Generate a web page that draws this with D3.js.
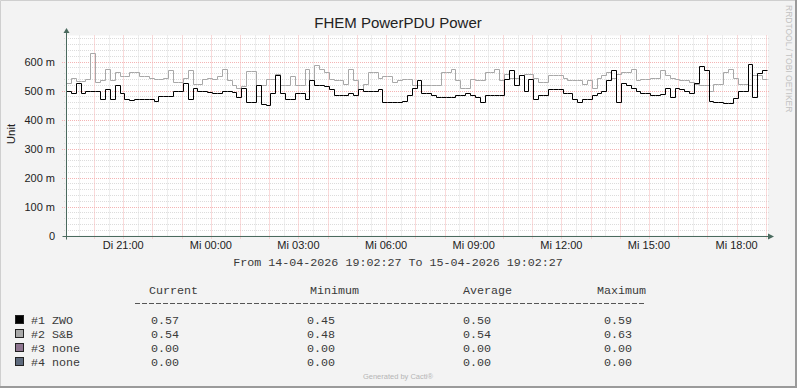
<!DOCTYPE html>
<html>
<head>
<meta charset="utf-8">
<script src="https://cdn.jsdelivr.net/npm/d3@7"></script>
<style>
  html, body { margin: 0; padding: 0; background: #f3f3f3; }
  svg { display: block; }
</style>
</head>
<body>
<div id="chart"></div>
<script>
// --- data (one value per 10 minutes) ---
var startTime = Date.UTC(2026, 3, 14, 19, 2, 27);
var endTime = Date.UTC(2026, 3, 15, 19, 2, 27);
var stepMinutes = 10;

var zwoValues = [
  0.50, 0.49, 0.525, 0.49, 0.50, 0.50, 0.50, 0.47, 0.505, 0.47,
  0.52, 0.49, 0.47, 0.468, 0.47, 0.472, 0.47, 0.472, 0.465, 0.48,
  0.48, 0.48, 0.50, 0.50, 0.525, 0.47, 0.51, 0.50, 0.50, 0.495,
  0.49, 0.49, 0.50, 0.50, 0.495, 0.478, 0.51, 0.46, 0.46, 0.52,
  0.455, 0.45, 0.49, 0.555, 0.49, 0.47, 0.47, 0.49, 0.49, 0.47,
  0.535, 0.518, 0.518, 0.515, 0.507, 0.483, 0.483, 0.483, 0.49, 0.483,
  0.505, 0.50, 0.50, 0.498, 0.507, 0.46, 0.46, 0.46, 0.46, 0.465,
  0.483, 0.51, 0.535, 0.493, 0.493, 0.483, 0.478, 0.478, 0.478, 0.478,
  0.483, 0.483, 0.49, 0.485, 0.478, 0.46, 0.483, 0.483, 0.483, 0.483,
  0.54, 0.57, 0.52, 0.553, 0.50, 0.54, 0.472, 0.483, 0.483, 0.507,
  0.507, 0.507, 0.493, 0.493, 0.472, 0.46, 0.472, 0.472, 0.483, 0.493,
  0.50, 0.535, 0.57, 0.46, 0.525, 0.52, 0.51, 0.50, 0.493, 0.49,
  0.483, 0.483, 0.487, 0.51, 0.478, 0.51, 0.507, 0.50, 0.49, 0.525,
  0.585, 0.57, 0.465, 0.46, 0.46, 0.457, 0.457, 0.475, 0.50, 0.50,
  0.59, 0.478, 0.56, 0.57
];

var sbValues = [
  0.525, 0.545, 0.533, 0.533, 0.54, 0.628, 0.53, 0.535, 0.576, 0.535,
  0.564, 0.55, 0.55, 0.565, 0.565, 0.55, 0.55, 0.545, 0.54, 0.54,
  0.545, 0.57, 0.53, 0.53, 0.545, 0.57, 0.523, 0.523, 0.54, 0.545,
  0.54, 0.55, 0.576, 0.535, 0.52, 0.51, 0.515, 0.567, 0.567, 0.48,
  0.518, 0.54, 0.54, 0.558, 0.52, 0.52, 0.55, 0.518, 0.518, 0.576,
  0.535, 0.587, 0.576, 0.564, 0.54, 0.535, 0.535, 0.523, 0.576, 0.535,
  0.507, 0.523, 0.564, 0.564, 0.545, 0.55, 0.55, 0.53, 0.535, 0.54,
  0.54, 0.518, 0.518, 0.518, 0.518, 0.518, 0.518, 0.564, 0.564, 0.576,
  0.535, 0.51, 0.51, 0.54, 0.535, 0.535, 0.565, 0.565, 0.576, 0.535,
  0.558, 0.545, 0.545, 0.553, 0.558, 0.558, 0.545, 0.53, 0.53, 0.553,
  0.553, 0.553, 0.545, 0.535, 0.535, 0.535, 0.523, 0.535, 0.51, 0.545,
  0.553, 0.564, 0.545, 0.558, 0.564, 0.564, 0.576, 0.535, 0.54, 0.54,
  0.545, 0.545, 0.57, 0.553, 0.545, 0.54, 0.535, 0.535, 0.53, 0.523,
  0.518, 0.518, 0.50, 0.523, 0.523, 0.564, 0.576, 0.545, 0.523, 0.523,
  0.518, 0.553, 0.553, 0.54
];

// legend table
var legendNames = ['#1 ZWO', '#2 S&B', '#3 none', '#4 none'];
var legendColors = ['#000000', '#a8a8a8', '#8e7590', '#5e6a7d'];
var legendCurrent = ['0.57', '0.54', '0.00', '0.00'];
var legendMinimum = ['0.45', '0.48', '0.00', '0.00'];
var legendAverage = ['0.50', '0.54', '0.00', '0.00'];
var legendMaximum = ['0.59', '0.63', '0.00', '0.00'];
var legendHeaders = ['Current', 'Minimum', 'Average', 'Maximum'];

var weekdays = ['So', 'Mo', 'Di', 'Mi', 'Do', 'Fr', 'Sa'];

var width = 797, height = 388;
var axisColor = '#4a6a5e';
var sansFont = '"Liberation Sans", Arial, sans-serif';
var monoFont = '"Liberation Mono", "Courier New", monospace';

var svg = d3.select('#chart').append('svg')
    .attr('width', width)
    .attr('height', height);

// background + frame
svg.append('rect').attr('width', width).attr('height', height).attr('fill', '#f3f3f3');
svg.append('path').attr('d', 'M0.5,' + height + 'V0.5H' + width)
    .attr('fill', 'none').attr('stroke', '#cfcfcf');
svg.append('path').attr('d', 'M' + (width - 1) + ',0V' + (height - 1) + 'H0')
    .attr('fill', 'none').attr('stroke', '#9a9a9a').attr('stroke-width', 2);

var x = d3.scaleUtc().domain([startTime, endTime]).range([66, 767]);
var y = d3.scaleLinear().domain([0, 0.69]).range([235.5, 35.5]);

function px(v) { return Math.round(v) + 0.5; }

// plot canvas
svg.append('rect')
    .attr('x', x.range()[0]).attr('y', y.range()[1])
    .attr('width', x.range()[1] - x.range()[0] + 1)
    .attr('height', y.range()[0] - y.range()[1])
    .attr('fill', '#ffffff');

var grid = svg.append('g');

// minor grid (30 min / 20 m), major grid (1 h / 100 m)
var minorX = x.ticks(d3.utcMinute.every(30)).filter(function(d) { return d.getUTCMinutes() !== 0; });
var majorX = x.ticks(d3.utcHour.every(1));
var minorY = d3.range(1, 35).map(function(i) { return i * 0.02; }).filter(function(v, i) { return (i + 1) % 5 !== 0; });
var majorY = d3.range(1, 7).map(function(i) { return i / 10; });

var minorColor = '#dcdcdc', majorColor = '#f4b4b4';

grid.selectAll('.minx').data(minorX).enter().append('line')
    .attr('x1', function(d) { return px(x(d)); }).attr('x2', function(d) { return px(x(d)); })
    .attr('y1', y.range()[1]).attr('y2', y.range()[0] + 2)
    .attr('stroke', minorColor).attr('stroke-dasharray', '1,1');
grid.selectAll('.miny').data(minorY).enter().append('line')
    .attr('x1', x.range()[0] - 2).attr('x2', x.range()[1] + 2)
    .attr('y1', function(d) { return px(y(d)); }).attr('y2', function(d) { return px(y(d)); })
    .attr('stroke', minorColor).attr('stroke-dasharray', '1,1');
grid.selectAll('.majx').data(majorX).enter().append('line')
    .attr('x1', function(d) { return px(x(d)); }).attr('x2', function(d) { return px(x(d)); })
    .attr('y1', y.range()[1]).attr('y2', y.range()[0] + 3)
    .attr('stroke', majorColor).attr('stroke-dasharray', '1,1');
grid.selectAll('.majy').data(majorY).enter().append('line')
    .attr('x1', x.range()[0] - 4).attr('x2', x.range()[1] + 2)
    .attr('y1', function(d) { return px(y(d)); }).attr('y2', function(d) { return px(y(d)); })
    .attr('stroke', majorColor).attr('stroke-dasharray', '1,1');

// series
function toPoints(values) {
    var pts = values.map(function(v, i) {
        return { t: startTime + i * stepMinutes * 60000, v: v };
    });
    pts.push({ t: endTime, v: values[values.length - 1] });
    return pts;
}

var line = d3.line()
    .x(function(d) { return px(x(d.t)); })
    .y(function(d) { return px(y(d.v)); })
    .curve(d3.curveStepAfter);

svg.append('path').datum(toPoints(sbValues))
    .attr('d', line).attr('fill', 'none')
    .attr('stroke', legendColors[1]).attr('stroke-width', 1);
svg.append('path').datum(toPoints(zwoValues))
    .attr('d', line).attr('fill', 'none')
    .attr('stroke', legendColors[0]).attr('stroke-width', 1);

// axes
var x0 = px(x.range()[0]), yb = px(y.range()[0]);
svg.append('line').attr('x1', x0).attr('x2', x0).attr('y1', 32).attr('y2', yb + 3)
    .attr('stroke', axisColor);
svg.append('line').attr('x1', x0 - 4).attr('x2', 769).attr('y1', yb).attr('y2', yb)
    .attr('stroke', axisColor);
svg.append('path').attr('d', 'M' + x0 + ',28L' + (x0 + 3) + ',33L' + (x0 - 3) + ',33Z')
    .attr('fill', axisColor);
svg.append('path').attr('d', 'M774,' + yb + 'L768,' + (yb - 3) + 'L768,' + (yb + 3) + 'Z')
    .attr('fill', axisColor);

// y tick labels
svg.selectAll('.ylab').data([0].concat(majorY)).enter().append('text')
    .attr('x', 55).attr('y', function(d) { return y(d) + 4; })
    .attr('text-anchor', 'end')
    .attr('font-family', sansFont).attr('font-size', '11px').attr('fill', '#222')
    .text(function(d) { return d === 0 ? '0' : Math.round(d * 1000) + ' m'; });

// x tick labels
svg.selectAll('.xlab').data(x.ticks(d3.utcHour.every(3))).enter().append('text')
    .attr('x', function(d) { return x(d); }).attr('y', 249)
    .attr('text-anchor', 'middle')
    .attr('font-family', sansFont).attr('font-size', '11px').attr('fill', '#222')
    .text(function(d) { return weekdays[d.getUTCDay()] + ' ' + d3.utcFormat('%H:%M')(d); });

// title, axis label, watermark
svg.append('text').attr('x', 398).attr('y', 27.5).attr('text-anchor', 'middle')
    .attr('font-family', sansFont).attr('font-size', '15px').attr('fill', '#222')
    .text('FHEM PowerPDU Power');
svg.append('text').attr('transform', 'translate(15,134) rotate(-90)')
    .attr('text-anchor', 'middle')
    .attr('font-family', sansFont).attr('font-size', '11.5px').attr('fill', '#222')
    .text('Unit');
svg.append('text').attr('transform', 'translate(786,5) rotate(90)')
    .attr('font-family', sansFont).attr('font-size', '8.5px').attr('fill', '#c2c2c2')
    .text('RRDTOOL / TOBI OETIKER');

var fmt = d3.utcFormat('%d-%m-%Y %H:%M:%S');
svg.append('text').attr('x', 398).attr('y', 266).attr('text-anchor', 'middle')
    .attr('font-family', monoFont).attr('font-size', '11.7px').attr('fill', '#3a3a3a')
    .text('From ' + fmt(new Date(startTime)) + ' To ' + fmt(new Date(endTime)));

// legend
var colX = [149, 310, 463, 597];
var valX = [151, 307, 463, 604];
var legend = svg.append('g').attr('font-family', monoFont).attr('font-size', '11.7px').attr('fill', '#3a3a3a');

legend.selectAll('.hdr').data(legendHeaders).enter().append('text')
    .attr('x', function(d, i) { return colX[i]; }).attr('y', 294)
    .text(function(d) { return d; });

legend.append('line').attr('x1', 135).attr('x2', 645).attr('y1', 303.5).attr('y2', 303.5)
    .attr('stroke', '#555').attr('stroke-dasharray', '5,2');

var rows = legend.selectAll('.row').data(legendNames).enter().append('g')
    .attr('transform', function(d, i) { return 'translate(0,' + (323.5 + i * 14) + ')'; });

rows.append('rect').attr('x', 15.5).attr('y', -8).attr('width', 8).attr('height', 8)
    .attr('fill', function(d, i) { return legendColors[i]; })
    .attr('stroke', '#222');
rows.append('text').attr('x', 31).text(function(d) { return d; });

[legendCurrent, legendMinimum, legendAverage, legendMaximum].forEach(function(col, c) {
    rows.append('text').attr('x', valX[c]).text(function(d, i) { return col[i]; });
});

svg.append('text').attr('x', 398).attr('y', 379).attr('text-anchor', 'middle')
    .attr('font-family', sansFont).attr('font-size', '7.5px').attr('fill', '#b5b5b5')
    .text('Generated by Cacti\u00AE');
</script>
</body>
</html>
